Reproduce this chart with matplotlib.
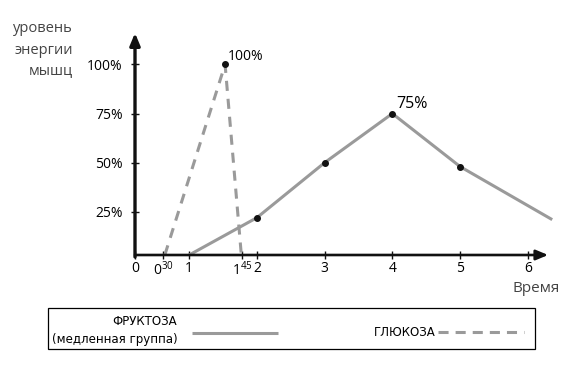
import matplotlib.pyplot as plt
from matplotlib.lines import Line2D
from matplotlib.patches import Rectangle

plt.rcParams['font.family'] = ['Open Sans', 'DejaVu Sans']
plt.rcParams['mathtext.fontset'] = 'custom'
plt.rcParams['mathtext.rm'] = 'Open Sans'

# data (x in axis units: 0 and 0:30 sit on a squeezed stretch before 1)
fructose_x = [1, 2, 3, 4, 5, 6.36]
fructose_y = [3, 22, 50, 75, 48, 21]
glucose_x = [0.64, 1.53, 1.77]
glucose_y = [3, 100, 3]

x_ticks = [0.2, 0.616, 1, 1.78, 2, 3, 4, 5, 6]
x_labels = ['0', r'$\mathregular{0^{30}}$', '1', r'$\mathregular{1^{45}}$',
            '2', '3', '4', '5', '6']
y_ticks = [25, 50, 75, 100]
y_labels = ['25%', '50%', '75%', '100%']

W, H = 577, 385
gray = '#9a9a9a'


def fx(px):
    return px / W


def fy(py):
    return 1 - py / H


fig = plt.figure(figsize=(W / 100, H / 100), dpi=100)
ax = fig.add_axes([fx(135), fy(255), (558.3 - 135) / W, (255 - 33) / H])
ax.set_xlim(0.2, 6.45)
ax.set_ylim(3, 116)
for s in ax.spines.values():
    s.set_visible(False)

# axes with arrows
ax.annotate('', xy=(0.2, 116), xytext=(0.2, 2), annotation_clip=False,
            arrowprops=dict(arrowstyle='-|>,head_length=0.6,head_width=0.25',
                            lw=2.4, color='#111111', mutation_scale=12,
                            shrinkA=0, shrinkB=0))
ax.annotate('', xy=(6.30, 3), xytext=(0.2, 3), annotation_clip=False,
            arrowprops=dict(arrowstyle='-|>,head_length=0.6,head_width=0.25',
                            lw=1.9, color='#111111', mutation_scale=12,
                            shrinkA=0, shrinkB=0))

ax.set_xticks(x_ticks)
ax.set_xticklabels(x_labels)
ax.set_yticks(y_ticks)
ax.set_yticklabels(y_labels)
ax.tick_params(axis='x', direction='inout', length=6, width=1, pad=1,
               labelsize=10, color='#111111')
ax.tick_params(axis='y', direction='inout', length=6, width=1, pad=6,
               labelsize=10, color='#111111')

ax.plot(fructose_x, fructose_y, color=gray, lw=2.2, clip_on=False,
        solid_capstyle='butt')
ax.plot(fructose_x[1:5], fructose_y[1:5], 'o', color='#111111', ms=4,
        clip_on=False)
ax.plot(glucose_x, glucose_y, color=gray, lw=2.2, ls=(0, (3.3, 2.6)),
        clip_on=False)
ax.plot(glucose_x[1], glucose_y[1], 'o', color='#111111', ms=4)

ax.annotate('100%', (glucose_x[1], glucose_y[1]), xytext=(2, 0),
            textcoords='offset points', ha='left', va='bottom', fontsize=10)
ax.annotate('75%', (fructose_x[3], fructose_y[3]), xytext=(3, 1),
            textcoords='offset points', ha='left', va='bottom', fontsize=11.5)

# axis captions
for i, word in enumerate(['уровень', 'энергии', 'мышц']):
    fig.text(fx(73), fy(29 + 21 * i), word, ha='right', va='center',
             fontsize=10.5, color='#444444')
fig.text(fx(513), fy(289), 'Время', ha='left', va='center',
         fontsize=11, color='#444444')

# legend box
fig.add_artist(Rectangle((fx(48.3), fy(349.3)), (535 - 48.3) / W,
                         (349.3 - 308.3) / H, transform=fig.transFigure,
                         fill=False, lw=0.9, ec='black'))
fig.text(fx(177), fy(321.5), 'ФРУКТОЗА', ha='right', va='center',
         fontsize=8.5, family='DejaVu Sans')
fig.text(fx(178), fy(340), '(медленная группа)', ha='right', va='center',
         fontsize=8.5, family='DejaVu Sans')
fig.add_artist(Line2D([fx(192), fx(278)], [fy(333.3), fy(333.3)],
                      transform=fig.transFigure, color=gray, lw=2.2,
                      solid_capstyle='butt'))
fig.text(fx(436), fy(332), 'ГЛЮКОЗА', ha='right', va='center',
         fontsize=8.5, family='DejaVu Sans')
fig.add_artist(Line2D([fx(438), fx(524)], [fy(332), fy(332)],
                      transform=fig.transFigure, color=gray, lw=2.2,
                      ls=(0, (3.3, 2.3))))

fig.savefig('out.png', dpi=100)
